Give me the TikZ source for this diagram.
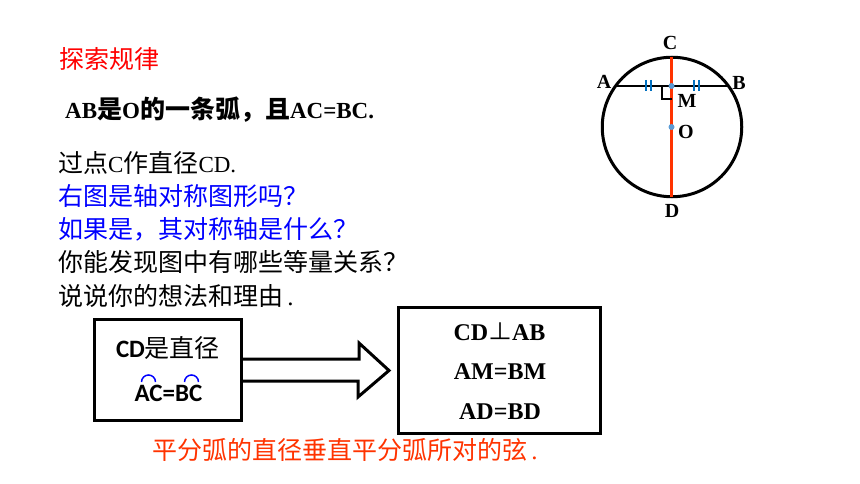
\documentclass[tikz,border=0pt]{standalone}
\usepackage{fontspec}
\setmainfont{Liberation Serif}
\newfontfamily\cjk{Noto Sans CJK SC}
\newfontfamily\carl{Carlito}
\usetikzlibrary{calc,positioning}
\definecolor{orangered}{HTML}{FF3300}
\definecolor{tickblue}{HTML}{0070C0}
\definecolor{dotblue}{HTML}{5B9BD5}
\newcommand{\zh}[1]{{\cjk #1}}
\newcommand{\la}[1]{{\fontsize{23}{23}\selectfont #1}}

\begin{document}
\begin{tikzpicture}[x=1pt,y=-1pt,
		line/.style = {anchor=west, inner sep=0pt, font=\fontsize{25}{25}\selectfont},
		pt/.style = {inner sep=0pt, font=\fontsize{20}{20}\selectfont\bfseries},
		res/.style = {inner sep=0pt, font=\fontsize{24}{24}\selectfont\bfseries},
		box/.style = {draw, line width=3pt, inner sep=0pt},
		dot/.style = {circle, fill=dotblue, inner sep=0pt, minimum size=6pt},
		tick/.style = {tickblue, line width=1.3pt}]
		\useasboundingbox (0,0) rectangle (860,484);
		% text on the left
		\node[line, text=red] (title) at (59,59) {\zh{探索规律}};
		\node[line, font=\fontsize{25}{25}\selectfont\bfseries] (given) at (65,110) {\la{AB}\zh{是}\la{O}\zh{的一条弧，且}\la{AC=BC.}};
		\node[line] (l1) at (58,163) {\zh{过点}\la{C}\zh{作直径}\la{CD.}};
		\node[line, text=blue] (l2) at (58,196) {\zh{右图是轴对称图形吗？}};
		\node[line, text=blue] (l3) at (58,229) {\zh{如果是，其对称轴是什么？}};
		\node[line] (l4) at (58,262) {\zh{你能发现图中有哪些等量关系？}};
		\node[line] (l5) at (58,296) {\zh{说说你的想法和理由}\,.};
		% circle
		\node[draw, circle, line width=3pt, inner sep=0pt, minimum size=139.5pt] (circ) at (672,127) {};
		\coordinate (a) at (615,86);
		\coordinate (b) at (728,86);
		\coordinate (c) at (671.5,57);
		\coordinate (d) at (671.5,197);
		\draw[line width=2.5pt] (a) -- (b);
		\draw[orangered, line width=3pt] (c) -- (d);
		\node[dot] (m) at (671.5,86) {};
		\node[dot] (o) at (671.5,127) {};
		\draw[line width=2.5pt] (662,86) -- (662,99) -- (672,99);
		\draw[tick] (646,80) -- (646,91);
		\draw[tick] (651,80) -- (651,91);
		\draw[tick] (694,80) -- (694,91);
		\draw[tick] (699,80) -- (699,91);
		\node[pt] (lc) at (670,43) {C};
		\node[pt] (la) at (604,82) {A};
		\node[pt] (lb) at (739,83) {B};
		\node[pt] (lm) at (687,101) {M};
		\node[pt] (lo) at (686,132) {O};
		\node[pt] (ld) at (672,211) {D};
		% boxes and arrow
		\node[box, minimum width=147pt, minimum height=101pt] (cond) at (168,370) {};
		\node[box, minimum width=202pt, minimum height=126pt] (result) at (499.5,370.5) {};
		\node[inner sep=0pt, font=\fontsize{25}{25}\selectfont] (cd) at (168,348) {{\carl\bfseries CD}\zh{是直径}};
		\node[inner sep=0pt, font=\fontsize{25}{25}\selectfont\bfseries\carl] (acbc) at (168.5,393) {AC=BC};
		\draw[blue, line width=1.5pt] (141.5,382) arc (180:360:7);
		\draw[blue, line width=1.5pt] (184.5,382) arc (180:360:7);
		\node[res] (r1) at (499.5,332) {CD{\mdseries\cjk ⊥}AB};
		\node[res] (r2) at (500,372) {AM=BM};
		\node[res] (r3) at (500,412) {AD=BD};
		\draw[line width=3pt, line join=miter] ($(cond.east)+(0,-11)$) -- ++(116,0) -- ++(0,-16) -- ($(result.west)+(-8,0)$) -- (358,397) -- ++(0,-16) -- ($(cond.east)+(0,11)$);
		% last line
		\node[line, text=orangered] (rule) at (152,450) {\zh{平分弧的直径垂直平分弧所对的弦}\,.};
	\end{tikzpicture}
\end{document}
